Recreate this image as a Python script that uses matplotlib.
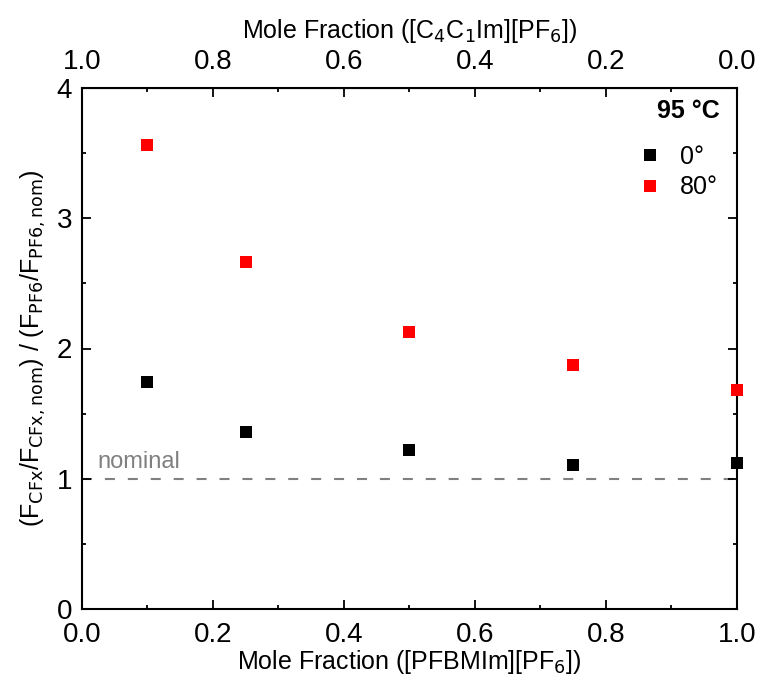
import matplotlib
matplotlib.use("Agg")
import matplotlib.pyplot as plt
from matplotlib.ticker import MultipleLocator, FixedLocator

plt.rcParams['font.family'] = ['Liberation Sans Narrow', 'Liberation Sans', 'DejaVu Sans']
plt.rcParams['mathtext.fontset'] = 'custom'
plt.rcParams['mathtext.rm'] = 'Liberation Sans Narrow'
plt.rcParams['mathtext.it'] = 'Liberation Sans Narrow'

# data
mole_fraction = [0.1, 0.25, 0.5, 0.75, 1.0]
ratio_0deg = [1.74, 1.36, 1.22, 1.11, 1.12]
ratio_80deg = [3.56, 2.66, 2.13, 1.87, 1.68]
series_labels = ['0°', '80°']
legend_title = '95 °C'
nominal = 1.0
top_ticks = [0.0, 0.2, 0.4, 0.6, 0.8, 1.0]
top_minor = [0.1, 0.3, 0.5, 0.7, 0.9]

fig = plt.figure(figsize=(7.58, 6.8), dpi=100)
ax = fig.add_axes([0.108, 0.104, 0.864, 0.767])

ax.axhline(nominal, color='#808080', linestyle=(0, (4.8, 6.2)), linewidth=1.5, zorder=1)
ax.text(0.024, nominal + 0.13, 'nominal', color='#808080', fontsize=17, va='center')

ax.plot(mole_fraction, ratio_0deg, 's', color='black', markersize=8, markeredgewidth=0,
        label=series_labels[0], clip_on=False, zorder=3)
ax.plot(mole_fraction, ratio_80deg, 's', color='#ff0000', markersize=8, markeredgewidth=0,
        label=series_labels[1], clip_on=False, zorder=3)

ax.set_xlim(0, 1)
ax.set_ylim(0, 4)
ax.xaxis.set_major_locator(MultipleLocator(0.2))
ax.xaxis.set_minor_locator(MultipleLocator(0.1))
ax.yaxis.set_major_locator(MultipleLocator(1))
ax.yaxis.set_minor_locator(MultipleLocator(0.5))
ax.xaxis.set_major_formatter(plt.FormatStrFormatter('%.1f'))
ax.tick_params(which='both', direction='in', right=True, labelsize=20, width=1.3)
ax.tick_params(which='major', length=6.5)
ax.tick_params(which='minor', length=3)
ax.tick_params(axis='x', pad=9)
ax.tick_params(axis='y', pad=7)
for s in ax.spines.values():
    s.set_linewidth(1.5)

ax.set_xlabel('Mole Fraction ([PFBMIm][PF$_6$])', fontsize=18, labelpad=0)
ax.set_ylabel(r'(F$_\mathrm{CFx}$/F$_\mathrm{CFx,nom}$) / (F$_\mathrm{PF6}$/F$_\mathrm{PF6,nom}$)',
              fontsize=18, labelpad=6, family=['Liberation Sans', 'DejaVu Sans'])

# top axis: the other component's mole fraction, 1 - x
top = ax.secondary_xaxis('top', functions=(lambda x: 1 - x, lambda x: 1 - x))
top.xaxis.set_major_locator(FixedLocator(top_ticks))
top.xaxis.set_minor_locator(FixedLocator(top_minor))
top.xaxis.set_major_formatter(plt.FormatStrFormatter('%.1f'))
top.tick_params(which='both', direction='in', labelsize=20, width=1.3, pad=9)
top.tick_params(which='major', length=6.5)
top.tick_params(which='minor', length=3)
top.set_xlabel('Mole Fraction ([C$_4$C$_1$Im][PF$_6$])', fontsize=18, labelpad=8)

ax.text(0.974, 0.955, legend_title, transform=ax.transAxes, ha='right', va='center',
        fontsize=18, fontweight='bold')
ax.legend(loc='upper left', bbox_to_anchor=(0.852, 0.89), frameon=False, fontsize=18,
          borderpad=0, borderaxespad=0, handlelength=0.8, handletextpad=0.8,
          labelspacing=0.25)

fig.savefig('out.png', dpi=100)
